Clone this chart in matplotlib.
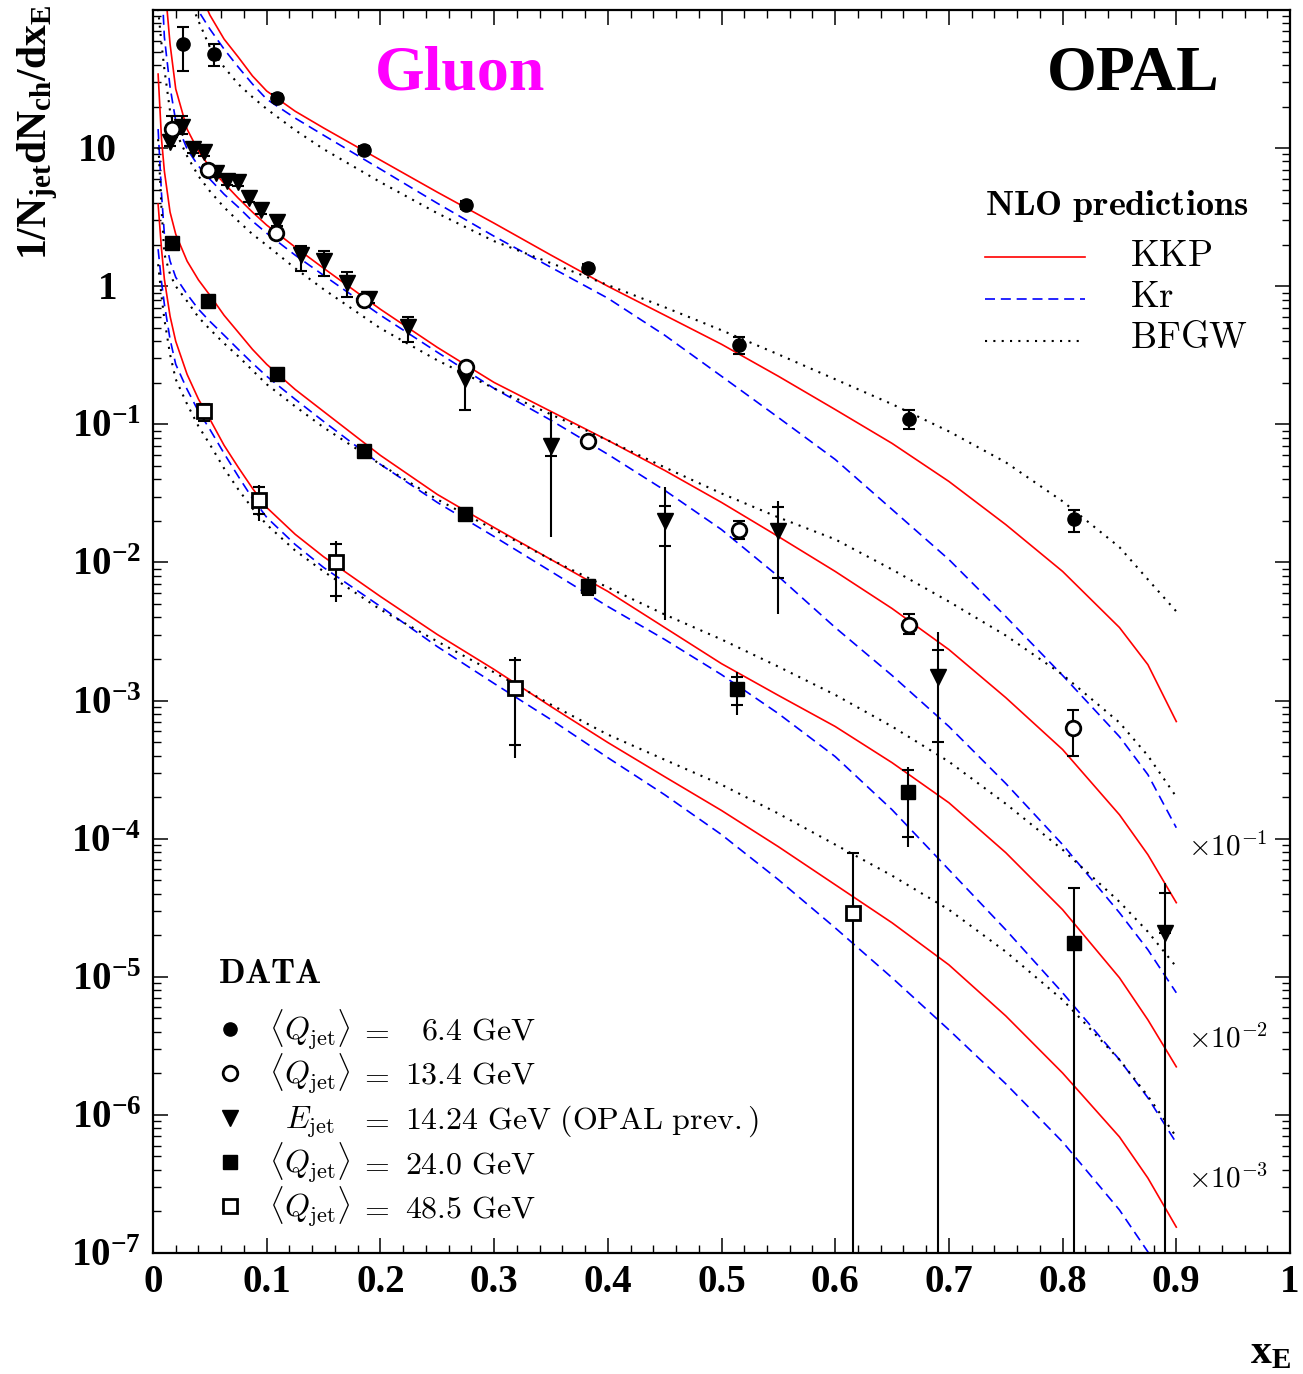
import numpy as np
import matplotlib.pyplot as plt
from matplotlib.lines import Line2D
from matplotlib.ticker import FixedLocator, LogLocator, NullFormatter, MultipleLocator
from matplotlib.transforms import offset_copy

W, H = 1303, 1374

plt.rcParams['font.family'] = 'Liberation Serif'
plt.rcParams['font.weight'] = 'bold'
plt.rcParams['mathtext.fontset'] = 'custom'
plt.rcParams['mathtext.rm'] = 'Liberation Serif:bold'
plt.rcParams['mathtext.it'] = 'Liberation Serif:italic:bold'
plt.rcParams['mathtext.bf'] = 'Liberation Serif:bold'
plt.rcParams['axes.linewidth'] = 1.6

# ---- data points (unscaled), total errors given as upper / lower ends ----
# <Q_jet> = 6.4 GeV  (x 1)
x_q64 = [0.026, 0.054, 0.109, 0.186, 0.275, 0.383, 0.515, 0.665, 0.810]
y_q64 = [56.7, 48.0, 23.0, 9.68, 3.86, 1.35, 0.373, 0.110, 0.0205]
hi_q64 = [75.3, 56.7, 24.6, 10.3, 4.13, 1.44, 0.427, 0.128, 0.0238]
lo_q64 = [36.1, 39.3, 21.5, 9.05, 3.61, 1.26, 0.321, 0.0920, 0.0165]

# <Q_jet> = 13.4 GeV  (x 10^-1)
x_q134 = [0.017, 0.048, 0.108, 0.186, 0.275, 0.383, 0.515, 0.665, 0.809]
y_q134 = [137, 69.3, 24.2, 7.92, 2.59, 0.753, 0.173, 0.0355, 0.00637]
hi_q134 = [171, 75.3, 25.9, 8.46, 2.77, 0.805, 0.198, 0.0420, 0.00861]
lo_q134 = [120, 63.7, 22.6, 7.41, 2.42, 0.705, 0.147, 0.0301, 0.00399]

# E_jet = 14.24 GeV, OPAL previous  (x 10^-1)
x_e1424 = [0.015, 0.0255, 0.035, 0.045, 0.055, 0.065, 0.075, 0.0845, 0.095, 0.109,
           0.130, 0.150, 0.171, 0.190, 0.224, 0.274, 0.350, 0.450, 0.550, 0.690, 0.890]
y_e1424 = [111, 142, 98.4, 93.5, 65.9, 57.7, 56.7, 43.4, 35.6, 29.1,
           16.8, 15.2, 10.5, 8.05, 5.05, 2.12, 0.693, 0.198, 0.168, 0.0147, 0.000208]
hi_e1424 = [118, 171, 105, 100, 70.5, 61.6, 60.6, 46.4, 38.0, 31.1,
            19.5, 17.9, 12.6, 8.61, 5.96, 2.42, 1.22, 0.349, 0.277, 0.0311, 0.000480]
lo_e1424 = [103, 126, 92.0, 87.5, 61.6, 53.9, 53.1, 40.6, 33.3, 27.2,
            12.8, 11.8, 8.32, 7.53, 3.93, 1.28, 0.154, 0.0386, 0.0420, 1e-8, 1e-8]

# <Q_jet> = 24.0 GeV  (x 10^-2)
x_q24 = [0.0167, 0.048, 0.109, 0.186, 0.274, 0.383, 0.514, 0.664, 0.810]
y_q24 = [205, 77.9, 23.0, 6.37, 2.26, 0.670, 0.122, 0.0216, 0.00176]
hi_q24 = [219, 83.2, 24.6, 6.81, 2.42, 0.741, 0.162, 0.0333, 0.00442]
lo_q24 = [192, 72.8, 21.5, 5.96, 2.12, 0.586, 0.0792, 0.00875, 1e-8]

# <Q_jet> = 48.5 GeV  (x 10^-3)
x_q485 = [0.0449, 0.093, 0.161, 0.318, 0.616]
y_q485 = [124, 28.1, 10.0, 1.24, 0.0291]
hi_q485 = [140, 36.1, 14.2, 2.05, 0.0792]
lo_q485 = [105, 19.8, 5.21, 0.386, 1e-8]

# statistical error ends (point index: (upper, lower)) where they differ from total
stat_e1424 = {16: (0.778, 0.586), 17: (0.255, 0.131), 18: (0.250, 0.0778),
              19: (0.0234, 0.00505), 20: (0.000406, 0.000208)}
stat_q24 = {6: (0.149, 0.0935), 7: (0.0316, 0.0102)}
stat_q485 = {1: (34.9, 22.3), 2: (13.5, 5.67), 3: (1.98, 0.480)}

# ---- NLO predictions (unscaled) ----
x_s1 = [0.03, 0.04, 0.05, 0.0625, 0.075, 0.0875, 0.1, 0.125, 0.15, 0.2, 0.25, 0.3, 0.35,
        0.4, 0.45, 0.5, 0.55, 0.6, 0.65, 0.7, 0.75, 0.8, 0.85, 0.875, 0.9]
kkp_q64 = [330, 142, 92.0, 61.6, 45.6, 33.3, 25.9, 18.5, 14.0, 8.19, 4.80, 2.86, 1.68,
           1.00, 0.617, 0.380, 0.223, 0.128, 0.0728, 0.0386, 0.0188, 0.00861, 0.00338, 0.00182, 0.000705]
kr_q64 = [234, 98.4, 72.8, 52.1, 38.6, 29.1, 22.6, 16.5, 12.4, 7.05, 3.99, 2.30, 1.37,
          0.819, 0.442, 0.223, 0.112, 0.0557, 0.0242, 0.0105, 0.00406, 0.00152, 0.000548, 0.000291, 0.000120]
bfgw_q64 = [131, 83.2, 53.9, 38.6, 29.1, 23.4, 19.2, 13.5, 9.84, 5.67, 3.38, 2.12, 1.47,
            1.02, 0.705, 0.480, 0.321, 0.212, 0.140, 0.0889, 0.0531, 0.0277, 0.0129, 0.00753, 0.00442]

x_c = [0.0045, 0.0075, 0.01, 0.015, 0.02, 0.03, 0.04, 0.05, 0.0625, 0.075, 0.0875, 0.1,
       0.125, 0.15, 0.2, 0.25, 0.3, 0.35, 0.4, 0.45, 0.5, 0.55, 0.6, 0.65, 0.7, 0.75, 0.8,
       0.85, 0.875, 0.9]
kkp_q134 = [14700, 3864, 1679, 567, 268, 137, 95.1, 72.8, 55.7, 43.4, 34.4, 27.7,
            19.2, 13.5, 6.81, 3.61, 2.01, 1.24, 0.766, 0.464, 0.272, 0.154, 0.0861, 0.0464,
            0.0234, 0.0105, 0.00442, 0.00149, 0.000766, 0.000344]
kr_q134 = [6370, 1679, 637, 277, 157, 98.4, 74.1, 59.6, 46.4, 37.4, 29.6, 24.2,
           16.8, 12.0, 6.17, 3.33, 1.82, 1.07, 0.607, 0.333, 0.173, 0.0792, 0.0338, 0.0152,
           0.00649, 0.00251, 0.000906, 0.000291, 0.000157, 0.0000766]
bfgw_q134 = [1016, 567, 373, 185, 131, 87.5, 62.7, 48.8, 37.3, 29.6, 23.8, 19.8,
             13.5, 9.51, 4.96, 2.91, 1.82, 1.18, 0.766, 0.488, 0.316, 0.212, 0.147, 0.0889,
             0.0521, 0.0296, 0.0154, 0.00693, 0.00399, 0.00201]

kkp_q24 = [3436, 1161, 681, 344, 238, 152, 111, 86.1, 61.6, 46.4, 34.9, 27.2,
           17.9, 12.4, 5.96, 3.11, 1.79, 1.05, 0.617, 0.338, 0.185, 0.109, 0.0649, 0.0355,
           0.0182, 0.00792, 0.00306, 0.000984, 0.000488, 0.000223]
kr_q24 = [1374, 464, 238, 152, 116, 87.5, 68.1, 55.7, 44.2, 34.9, 27.7, 22.3,
          15.2, 10.5, 5.13, 2.72, 1.54, 0.861, 0.480, 0.277, 0.154, 0.0805, 0.0393, 0.0162,
          0.00596, 0.00219, 0.000766, 0.000251, 0.000133, 0.0000627]
bfgw_q24 = [1161, 361, 171, 122, 100, 77.9, 59.6, 48.8, 38.6, 31.1, 24.6, 19.5,
            13.5, 9.51, 5.13, 2.86, 1.73, 1.05, 0.659, 0.420, 0.277, 0.176, 0.110, 0.0649,
            0.0361, 0.0179, 0.00832, 0.00349, 0.00212, 0.00118]

kkp_q485 = [3930, 1854, 1125, 607, 399, 230, 152, 109, 70.5, 48.8, 34.4, 25.0,
            16.0, 11.0, 5.67, 3.01, 1.68, 0.905, 0.497, 0.281, 0.160, 0.0875, 0.0464, 0.0246,
            0.0122, 0.00521, 0.00201, 0.000693, 0.000349, 0.000154]
kr_q485 = [1854, 1069, 741, 413, 272, 179, 124, 92.0, 61.6, 42.0, 29.1, 21.2,
           13.5, 9.20, 4.80, 2.46, 1.33, 0.728, 0.386, 0.208, 0.107, 0.0505, 0.0226, 0.00984,
           0.00413, 0.00168, 0.000637, 0.000205, 0.000102, 0.0000456]
bfgw_q485 = [1443, 847, 577, 321, 212, 140, 96.8, 71.6, 48.0, 33.8, 24.6, 18.8,
             12.2, 8.61, 4.56, 2.68, 1.60, 0.935, 0.567, 0.373, 0.246, 0.152, 0.0906, 0.0540,
             0.0306, 0.0152, 0.00681, 0.00251, 0.00137, 0.000693]


fig = plt.figure(figsize=(W / 100, H / 100), dpi=100)
ax = fig.add_axes([153 / W, 1 - 1253 / H, 1137 / W, 1243 / H])
ax.set_yscale('log')
ax.set_xlim(0, 1)
ax.set_ylim(1e-7, 1e2)

# theory curves
curves = [
    (x_s1, kkp_q64, kr_q64, bfgw_q64, 1.0),
    (x_c, kkp_q134, kr_q134, bfgw_q134, 0.1),
    (x_c, kkp_q24, kr_q24, bfgw_q24, 0.01),
    (x_c, kkp_q485, kr_q485, bfgw_q485, 0.001),
]
for xs, kkp, kr, bfgw, s in curves:
    ax.plot(xs, np.array(kkp) * s, color='red', lw=1.2, zorder=2)
    ax.plot(xs, np.array(kr) * s, color='blue', lw=1.2, dashes=(6, 3.5), zorder=2)
    ax.plot(xs, np.array(bfgw) * s, color='black', lw=1.5, dashes=(1, 3), zorder=2)


# data: total error as plain bar, statistical error marked by small ticks
def draw_data(x, y, hi, lo, s, stat=None, **kw):
    y = np.array(y) * s
    hi = np.array(hi) * s
    lo = np.array(lo) * s
    ax.errorbar(x, y, yerr=[y - lo, hi - y], fmt='none', ecolor='black',
                elinewidth=1.5, capsize=0, zorder=3)
    shi, slo = hi.copy(), lo.copy()
    for i, (u, d) in (stat or {}).items():
        shi[i], slo[i] = u * s, d * s
    ax.errorbar(x, y, yerr=[y - slo, shi - y], fmt='none', ecolor='black',
                elinewidth=0, capsize=4.5, capthick=1.5, zorder=3)
    ax.plot(x, y, ls='none', zorder=4, **kw)


m_q64 = dict(marker='o', ms=9.5, color='black')
m_q134 = dict(marker='o', ms=10.5, mfc='white', mec='black', mew=2)
m_e1424 = dict(marker='v', ms=12, color='black')
m_q24 = dict(marker='s', ms=9.5, color='black')
m_q485 = dict(marker='s', ms=10, mfc='white', mec='black', mew=2)

draw_data(x_q64, y_q64, hi_q64, lo_q64, 1.0, **m_q64)
draw_data(x_e1424, y_e1424, hi_e1424, lo_e1424, 0.1, stat=stat_e1424, **m_e1424)
draw_data(x_q134, y_q134, hi_q134, lo_q134, 0.1, **m_q134)
draw_data(x_q24, y_q24, hi_q24, lo_q24, 0.01, stat=stat_q24, **m_q24)
draw_data(x_q485, y_q485, hi_q485, lo_q485, 0.001, stat=stat_q485, **m_q485)

# ticks
ax.set_xticks(np.arange(0, 1.01, 0.1))
ax.set_xticklabels(['0', '0.1', '0.2', '0.3', '0.4', '0.5', '0.6', '0.7', '0.8', '0.9', '1'])
ax.xaxis.set_minor_locator(MultipleLocator(0.02))
ax.yaxis.set_major_locator(FixedLocator([10.0 ** k for k in range(-7, 3)]))
ax.yaxis.set_minor_locator(LogLocator(base=10, subs=np.arange(2, 10), numticks=100))
ax.yaxis.set_minor_formatter(NullFormatter())
ax.tick_params(which='major', direction='in', length=11, width=1.1, top=True, right=True,
               labelsize=28, pad=8, labelleft=False)
ax.tick_params(which='minor', direction='in', length=5.5, width=1.0, top=True, right=True)

ylab_tr = offset_copy(ax.get_yaxis_transform(), fig=fig, x=0, y=-13, units='dots')
for k in range(-7, 2):
    if k == 1:
        txt, xr = '10', 117
    elif k == 0:
        txt, xr = '1', 117
    else:
        txt, xr = r'$10^{%d}$' % k, 141
    ax.text((xr - 153) / 1137, 10.0 ** k, txt, transform=ylab_tr, ha='right',
            va='baseline', fontsize=28, clip_on=False)

# axis titles
fig.text(38 / W, 1 - 5 / H, r'$\mathrm{1/N_{jet}dN_{ch}/dx_{E}}$', rotation=90,
         ha='center', va='top', fontsize=30)
fig.text(1291 / W, 1 - 1372 / H, r'$\mathrm{x_{E}}$', ha='right', va='bottom', fontsize=30)

fig.text(460 / W, 1 - 89 / H, 'Gluon', color='#ff00ff', fontsize=46, ha='center', va='baseline')
fig.text(1133 / W, 1 - 90 / H, 'OPAL', fontsize=46, ha='center', va='baseline')

# NLO legend
fig.text(985 / W, 1 - 215 / H, r'$\mathbf{NLO\ predictions}$', math_fontfamily='cm',
         fontsize=26, va='baseline')
nlo_rows = [
    ('KKP', 257, 266, dict(color='red', lw=1.2)),
    ('Kr', 299, 307, dict(color='blue', lw=1.2, dashes=(6, 3.5))),
    ('BFGW', 341, 348, dict(color='black', lw=1.5, dashes=(1, 3))),
]
for name, yl, yt, st in nlo_rows:
    fig.add_artist(Line2D([985 / W, 1085 / W], [1 - yl / H, 1 - yl / H], **st))
    fig.text(1130 / W, 1 - yt / H, r'$\mathrm{%s}$' % name, math_fontfamily='cm',
             fontsize=26.5, va='baseline')

# DATA legend
fig.text(218 / W, 1 - 983 / H, r'$\mathbf{DATA}$', math_fontfamily='cm', fontsize=25,
         va='baseline')
data_rows = [
    (m_q64, r'$\langle \mathit{Q}_{\mathrm{jet}}\rangle$', r'$6.4\ \mathrm{GeV}$', 1029, 421),
    (m_q134, r'$\langle \mathit{Q}_{\mathrm{jet}}\rangle$', r'$13.4\ \mathrm{GeV}$', 1073, 405),
    (m_e1424, r'$\mathit{E}_{\mathrm{jet}}$', r'$14.24\ \mathrm{GeV}\ (\mathrm{OPAL\ prev.})$', 1118, 405),
    (m_q24, r'$\langle \mathit{Q}_{\mathrm{jet}}\rangle$', r'$24.0\ \mathrm{GeV}$', 1162, 405),
    (m_q485, r'$\langle \mathit{Q}_{\mathrm{jet}}\rangle$', r'$48.5\ \mathrm{GeV}$', 1206, 405),
]
for mk, left, right, yc, xr in data_rows:
    fig.add_artist(Line2D([230 / W], [1 - yc / H], ls='none', **mk))
    yb = 1 - (yc + 11) / H
    fig.text(310 / W, yb, left, math_fontfamily='cm', fontsize=23, ha='center', va='baseline')
    fig.text(374 / W, yb, r'$=$', math_fontfamily='cm', fontsize=23, ha='center', va='baseline')
    fig.text(xr / W, yb, right, math_fontfamily='cm', fontsize=23, ha='left', va='baseline')

# scale factors
for lab, yb in [(r'$\times10^{-1}$', 856), (r'$\times10^{-2}$', 1048), (r'$\times10^{-3}$', 1187)]:
    fig.text(1188 / W, 1 - yb / H, lab, math_fontfamily='cm', fontsize=21, va='baseline')

fig.savefig('out.png', dpi=100)
